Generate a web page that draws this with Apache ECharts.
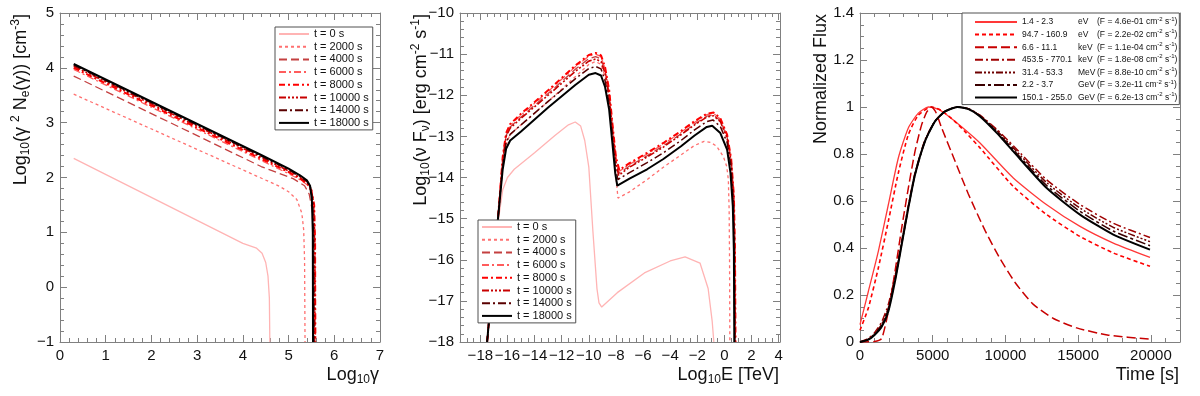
<!DOCTYPE html>
<html>
<head>
<meta charset="utf-8">
<script src="https://cdn.jsdelivr.net/npm/echarts@6.0.0/dist/echarts.min.js"></script>
<style>
html, body { margin: 0; padding: 0; background: #fff; }
#main { width: 1200px; height: 396px; }
</style>
</head>
<body>
<div id="main"></div>
<script>
// legend labels
var timeLabels = ['t = 0 s', 't = 2000 s', 't = 4000 s', 't = 6000 s', 't = 8000 s', 't = 10000 s', 't = 14000 s', 't = 18000 s'];
var bandRanges = ['1.4 - 2.3', '94.7 - 160.9', '6.6 - 11.1', '453.5 - 770.1', '31.4 - 53.3', '2.2 - 3.7', '150.1 - 255.0'];
var bandUnits = ['eV', 'eV', 'keV', 'keV', 'MeV', 'GeV', 'GeV'];
var bandFlux = ['4.6e-01', '2.2e-02', '1.1e-04', '1.8e-08', '8.8e-10', '3.2e-11', '6.2e-13'];

// panel 1 : log10 gamma vs log10(gamma^2 Ne)
var ne0 = [[0.3, 2.35], [4.0, 0.8], [4.3, 0.71], [4.42, 0.62], [4.5, 0.45], [4.55, 0.2], [4.58, -0.2], [4.59, -1]];
var ne2000 = [[0.3, 3.52], [4.8, 1.84], [5.0, 1.74], [5.18, 1.6], [5.29, 1.35], [5.33, 1.05], [5.35, 0.5], [5.36, -1]];
var ne4000 = [[0.3, 3.85], [4.4, 2.2], [5.1, 1.98], [5.35, 1.85], [5.45, 1.7], [5.52, 1.4], [5.55, 0.6], [5.56, -1]];
var ne6000 = [[0.3, 3.97], [4.4, 2.31], [5.0, 2.07], [5.25, 1.96], [5.42, 1.86], [5.5, 1.74], [5.56, 1.45], [5.58, 0.8], [5.59, -1]];
var ne8000 = [[0.3, 4.0], [4.4, 2.34], [5.0, 2.1], [5.25, 1.98], [5.42, 1.88], [5.5, 1.76], [5.56, 1.5], [5.58, 0.8], [5.585, -1]];
var ne10000 = [[0.3, 4.03], [4.4, 2.37], [5.0, 2.12], [5.25, 2.0], [5.42, 1.9], [5.5, 1.78], [5.55, 1.5], [5.57, 0.8], [5.575, -1]];
var ne14000 = [[0.3, 4.05], [4.4, 2.39], [5.0, 2.14], [5.25, 2.02], [5.4, 1.93], [5.48, 1.82], [5.53, 1.55], [5.55, 0.9], [5.555, -1]];
var ne18000 = [[0.3, 4.07], [4.4, 2.41], [5.0, 2.16], [5.25, 2.04], [5.4, 1.95], [5.47, 1.85], [5.51, 1.6], [5.53, 1.0], [5.535, -1]];

// panel 2 : log10 E vs log10(nu F_nu)
var sed0 = [[-17.5, -18], [-17.1, -16.5], [-16.7, -15.1], [-16.35, -14.3], [-16.0, -14.0], [-15.5, -13.8], [-14, -13.4], [-12.5, -12.98], [-11.5, -12.72], [-11.0, -12.65], [-10.6, -12.75], [-10.3, -13.1], [-10.0, -13.75], [-9.7, -15.3], [-9.4, -16.7], [-9.25, -17.05], [-9.05, -17.15], [-7.9, -16.8], [-5.9, -16.32], [-4, -16.03], [-2.9, -15.93], [-1.8, -16.08], [-1.2, -16.7], [-0.9, -17.5], [-0.78, -18]];
var sed2000 = [[-17.5, -18], [-17.1, -16.5], [-16.7, -15], [-16.35, -13.75], [-16.1, -13.2], [-15.8, -12.95], [-15, -12.72], [-13, -12.15], [-11, -11.55], [-10, -11.25], [-9.5, -11.18], [-9.1, -11.25], [-8.8, -11.55], [-8.5, -12.1], [-8.25, -12.95], [-8.05, -13.8], [-7.85, -14.5], [-7, -14.35], [-5.7, -14.05], [-4.5, -13.75], [-3.2, -13.45], [-2.2, -13.22], [-1.5, -13.12], [-1, -13.15], [-0.57, -13.24], [-0.08, -13.49], [0.17, -13.73], [0.29, -14.05], [0.35, -14.8], [0.38, -16], [0.4, -18]];
var sed4000 = [[-17.5, -18], [-17.1, -16.5], [-16.7, -15], [-16.35, -13.56], [-16.1, -12.98], [-15.8, -12.77], [-15, -12.53], [-13, -11.96], [-11, -11.37], [-10, -11.11], [-9.5, -11.06], [-9.1, -11.12], [-8.8, -11.41], [-8.5, -11.96], [-8.25, -12.81], [-8.0, -13.6], [-7.78, -13.9], [-7, -13.72], [-5.7, -13.47], [-4.5, -13.23], [-3.2, -12.94], [-2.2, -12.7], [-1.3, -12.51], [-0.8, -12.48], [-0.3, -12.62], [0.2, -13.02], [0.5, -13.6], [0.69, -14.5], [0.77, -15.8], [0.8, -18]];
var sed6000 = [[-17.5, -18], [-17.1, -16.5], [-16.7, -15], [-16.35, -13.52], [-16.1, -12.95], [-15.8, -12.73], [-15, -12.48], [-13, -11.91], [-11, -11.31], [-10, -11.05], [-9.5, -11.0], [-9.1, -11.06], [-8.8, -11.35], [-8.5, -11.9], [-8.25, -12.75], [-8.0, -13.52], [-7.75, -13.85], [-7, -13.68], [-5.7, -13.43], [-4.5, -13.19], [-3.2, -12.9], [-2.2, -12.66], [-1.3, -12.47], [-0.8, -12.44], [-0.3, -12.58], [0.2, -12.98], [0.5, -13.57], [0.7, -14.47], [0.78, -15.8], [0.81, -18]];
var sed8000 = [[-17.5, -18], [-17.1, -16.5], [-16.7, -15], [-16.35, -13.5], [-16.1, -12.92], [-15.8, -12.7], [-15, -12.45], [-13, -11.88], [-11, -11.28], [-10, -11.02], [-9.5, -10.97], [-9.1, -11.03], [-8.8, -11.32], [-8.5, -11.87], [-8.25, -12.72], [-8.0, -13.5], [-7.75, -13.82], [-7, -13.65], [-5.7, -13.4], [-4.5, -13.16], [-3.2, -12.87], [-2.2, -12.63], [-1.3, -12.45], [-0.8, -12.42], [-0.3, -12.56], [0.2, -12.96], [0.5, -13.55], [0.7, -14.45], [0.78, -15.8], [0.82, -18]];
var sed10000 = [[-17.5, -18], [-17.1, -16.5], [-16.7, -15], [-16.35, -13.6], [-16.1, -13.0], [-15.8, -12.8], [-15, -12.56], [-13, -12.0], [-11, -11.42], [-10, -11.17], [-9.5, -11.12], [-9.1, -11.18], [-8.8, -11.47], [-8.5, -12.02], [-8.25, -12.87], [-8.0, -13.65], [-7.8, -13.95], [-7, -13.75], [-5.7, -13.5], [-4.5, -13.26], [-3.2, -12.96], [-2.2, -12.72], [-1.3, -12.53], [-0.8, -12.5], [-0.3, -12.64], [0.2, -13.04], [0.5, -13.62], [0.68, -14.5], [0.76, -15.8], [0.79, -18]];
var sed14000 = [[-17.5, -18], [-17.1, -16.5], [-16.7, -15], [-16.35, -13.7], [-16.1, -13.15], [-15.8, -12.95], [-15, -12.72], [-13, -12.15], [-11, -11.6], [-10, -11.35], [-9.5, -11.3], [-9.1, -11.36], [-8.8, -11.65], [-8.5, -12.2], [-8.25, -13.05], [-8.02, -13.8], [-7.85, -14.05], [-7, -13.88], [-5.7, -13.64], [-4.5, -13.4], [-3.2, -13.1], [-2.2, -12.84], [-1.3, -12.64], [-0.85, -12.6], [-0.3, -12.76], [0.2, -13.15], [0.5, -13.75], [0.66, -14.6], [0.73, -15.8], [0.76, -18]];
var sed18000 = [[-17.5, -18], [-17.1, -16.5], [-16.7, -15], [-16.35, -13.8], [-16.1, -13.3], [-15.8, -13.1], [-15, -12.88], [-13, -12.3], [-11, -11.75], [-10, -11.5], [-9.5, -11.46], [-9.1, -11.52], [-8.8, -11.8], [-8.5, -12.35], [-8.25, -13.2], [-8.05, -13.9], [-7.9, -14.2], [-7, -14.03], [-5.7, -13.8], [-4.5, -13.55], [-3.2, -13.24], [-2.2, -12.98], [-1.3, -12.77], [-0.9, -12.74], [-0.3, -12.92], [0.2, -13.32], [0.45, -13.89], [0.62, -14.7], [0.7, -15.8], [0.73, -18]];

// panel 3 : normalized light curves, time [s]
var lcEv1 = [[0, 0.074], [573, 0.215], [1260, 0.386], [1947, 0.584], [2635, 0.783], [3322, 0.911], [4010, 0.974], [4700, 1.0], [5400, 0.99], [6000, 0.965], [7000, 0.915], [8250, 0.847], [10540, 0.698], [12835, 0.584], [15125, 0.492], [17416, 0.421], [19937, 0.36]];
var lcEv2 = [[0, 0.05], [573, 0.145], [1260, 0.315], [1947, 0.513], [2635, 0.719], [3322, 0.882], [4010, 0.965], [4900, 1.0], [5600, 0.985], [6500, 0.94], [7300, 0.89], [8250, 0.826], [10540, 0.662], [12835, 0.542], [15125, 0.449], [17416, 0.379], [19937, 0.322]];
var lcKev1 = [[0, 0], [1000, 0.002], [1490, 0.015], [1947, 0.13], [2406, 0.3], [2865, 0.485], [3322, 0.655], [3781, 0.811], [4240, 0.925], [4600, 0.98], [4927, 1.0], [5200, 0.98], [5615, 0.911], [6531, 0.77], [7448, 0.63], [8594, 0.475], [9625, 0.355], [10700, 0.25], [11917, 0.16], [13300, 0.1], [14900, 0.06], [17000, 0.03], [19937, 0.012]];
var lcKev2 = [[0, 0], [573, 0.015], [1000, 0.04], [1490, 0.085], [1947, 0.16], [2406, 0.28], [2865, 0.43], [3322, 0.58], [3781, 0.72], [4469, 0.86], [5156, 0.94], [5844, 0.982], [6700, 1.0], [7500, 0.992], [8250, 0.965], [9400, 0.905], [10540, 0.835], [12835, 0.69], [15125, 0.585], [17416, 0.505], [19937, 0.445]];
var lcMev = [[0, 0], [573, 0.012], [1000, 0.035], [1490, 0.075], [1947, 0.145], [2406, 0.27], [2865, 0.42], [3322, 0.575], [3781, 0.715], [4469, 0.857], [5156, 0.94], [5844, 0.981], [6700, 1.0], [7500, 0.991], [8250, 0.963], [9400, 0.9], [10540, 0.826], [12835, 0.678], [15125, 0.57], [17416, 0.488], [19937, 0.427]];
var lcGev1 = [[0, 0], [573, 0.011], [1000, 0.032], [1490, 0.07], [1947, 0.138], [2406, 0.264], [2865, 0.417], [3322, 0.572], [3781, 0.713], [4469, 0.855], [5156, 0.939], [5844, 0.981], [6700, 1.0], [7500, 0.99], [8250, 0.962], [9400, 0.895], [10540, 0.818], [12835, 0.666], [15125, 0.556], [17416, 0.472], [19937, 0.41]];
var lcGev2 = [[0, 0], [573, 0.01], [1000, 0.03], [1490, 0.065], [1947, 0.13], [2406, 0.258], [2865, 0.414], [3322, 0.57], [3781, 0.712], [4469, 0.854], [5156, 0.939], [5844, 0.981], [6700, 1.0], [7500, 0.99], [8250, 0.96], [9400, 0.89], [10540, 0.811], [12835, 0.655], [15125, 0.542], [17416, 0.457], [19937, 0.393]];

var neData = [ne0, ne2000, ne4000, ne6000, ne8000, ne10000, ne14000, ne18000];
var sedData = [sed0, sed2000, sed4000, sed6000, sed8000, sed10000, sed14000, sed18000];
var lcData = [lcEv1, lcEv2, lcKev1, lcKev2, lcMev, lcGev1, lcGev2];

var font = "'Liberation Sans', Arial, Helvetica, sans-serif";
var frameColor = '#808080';

var timeStyles = [
  { color: '#ffb4b4', type: 'solid', width: 1.3 },
  { color: '#ff7070', type: [3, 3], width: 1.3 },
  { color: '#c44040', type: [8, 4], width: 1.3 },
  { color: '#ff5c5c', type: [7, 3, 2, 3], width: 1.3 },
  { color: '#ff0000', type: [6, 3, 2, 3], width: 2 },
  { color: '#c80000', type: [7, 2, 2, 2, 2, 2, 2, 2], width: 1.6 },
  { color: '#5a0000', type: [8, 3, 2, 3], width: 1.5 },
  { color: '#000000', type: 'solid', width: 2 }
];
var bandStyles = [
  { color: '#ff3838', type: 'solid', width: 1.3 },
  { color: '#ff0000', type: [4, 3], width: 1.6 },
  { color: '#c80000', type: [9, 4], width: 1.5 },
  { color: '#a00000', type: [8, 3, 2, 3], width: 1.5 },
  { color: '#6e0000', type: [7, 2, 2, 2, 2, 2, 2, 2], width: 1.5 },
  { color: '#3a0000', type: [10, 3, 3, 3], width: 1.6 },
  { color: '#000000', type: 'solid', width: 2 }
];

function minus(v) {
  return String(v).replace('-', '\u2212');
}

var nameRich = {
  s: { fontSize: 12, lineHeight: 8, verticalAlign: 'bottom', fontFamily: font, color: '#111' },
  p: { fontSize: 12, lineHeight: 8, verticalAlign: 'top', fontFamily: font, color: '#111' }
};

function axis(gridIndex, position, extra, showLabel, minorSplit) {
  var a = {
    type: 'value',
    gridIndex: gridIndex,
    position: position,
    axisLine: { show: true, onZero: false, lineStyle: { color: frameColor, width: 1 } },
    axisTick: { show: true, inside: true, length: 7, lineStyle: { color: frameColor } },
    minorTick: { show: true, splitNumber: minorSplit, length: 4, lineStyle: { color: frameColor } },
    splitLine: { show: false },
    axisLabel: {
      show: showLabel, margin: 6, color: '#111', fontSize: 15, fontFamily: font,
      formatter: minus
    }
  };
  for (var k in extra) a[k] = extra[k];
  return a;
}

function xName(text) {
  return {
    name: text,
    nameLocation: 'end',
    nameGap: 0,
    nameMoveOverlap: false,
    nameTextStyle: {
      fontSize: 18, lineHeight: 22, fontFamily: font, color: '#111',
      align: 'right', verticalAlign: 'top', padding: [22, 1, 0, 0], rich: nameRich
    }
  };
}
function yName(text) {
  return {
    name: text,
    nameLocation: 'end',
    nameGap: -1,
    nameRotate: 90,
    nameMoveOverlap: false,
    nameTextStyle: {
      fontSize: 18, lineHeight: 22, fontFamily: font, color: '#111',
      align: 'right', verticalAlign: 'bottom', padding: [0, 0, 28, 0], rich: nameRich
    }
  };
}
function merge(a, b) {
  for (var k in b) a[k] = b[k];
  return a;
}

var xRanges = [
  { min: 0, max: 7, interval: 1 },
  { min: -19.5, max: 4.1, splitNumber: 12 },
  { min: 0, max: 22000, interval: 5000 }
];
var yRanges = [
  { min: -1, max: 5, interval: 1 },
  { min: -18, max: -10, interval: 1 },
  { min: 0, max: 1.4, interval: 0.2 }
];
var xMinor = [5, 4, 5];
var yMinor = [5, 5, 4];
var xNames = ['Log{s|10}\u03b3', 'Log{s|10}E [TeV]', 'Time [s]'];
var yNames = [
  'Log{s|10}(\u03b3 {p|2} N{s|e}(\u03b3)) [cm{p|-3}]',
  'Log{s|10}(\u03bd F{s|\u03bd}) [erg cm{p|-2} s{p|-1}]',
  'Normalized Flux'
];

var xAxes = [], yAxes = [];
for (var g = 0; g < 3; g++) {
  var xa = axis(g, 'bottom', xRanges[g], true, xMinor[g]);
  xa.axisLabel.showMinLabel = g !== 1;
  xa.axisLabel.showMaxLabel = g === 0;
  xAxes.push(merge(xa, xName(xNames[g])));
  var ya = axis(g, 'left', yRanges[g], true, yMinor[g]);
  yAxes.push(merge(ya, yName(yNames[g])));
}
for (var g2 = 0; g2 < 3; g2++) {
  xAxes.push(axis(g2, 'top', xRanges[g2], false, xMinor[g2]));
  yAxes.push(axis(g2, 'right', yRanges[g2], false, yMinor[g2]));
}

function line(name, data, gi, st) {
  return {
    name: name,
    type: 'line',
    xAxisIndex: gi,
    yAxisIndex: gi,
    data: data,
    symbol: 'circle',
    showSymbol: false,
    clip: true,
    smooth: gi === 2 ? 0.2 : false,
    lineStyle: { color: st.color, width: st.width, type: st.type },
    itemStyle: { color: st.color },
    emphasis: { disabled: true }
  };
}

var series = [];
for (var i = 0; i < timeLabels.length; i++) series.push(line(timeLabels[i], neData[i], 0, timeStyles[i]));
for (var j = 0; j < timeLabels.length; j++) series.push(line(timeLabels[j], sedData[j], 1, timeStyles[j]));
var bandNames = [];
for (var b = 0; b < bandRanges.length; b++) {
  bandNames.push(bandRanges[b] + ' ' + bandUnits[b]);
  series.push(line(bandNames[b], lcData[b], 2, bandStyles[b]));
}

function timeLegend(left, top) {
  return {
    data: timeLabels,
    orient: 'vertical',
    left: left, top: top,
    selectedMode: false,
    backgroundColor: '#fff',
    borderColor: '#505050', borderWidth: 1,
    padding: [1, 4, 1, 3],
    itemWidth: 30, itemHeight: 12, itemGap: 0.7,
    itemStyle: { opacity: 0 },
    textStyle: { fontSize: 11, lineHeight: 12, fontFamily: font, color: '#111' }
  };
}

var option = {
  animation: false,
  backgroundColor: '#fff',
  grid: [
    { left: 60, top: 13, width: 320, height: 329, outerBoundsMode: 'none' },
    { left: 460, top: 13, width: 320, height: 329, outerBoundsMode: 'none' },
    { left: 860, top: 13, width: 320, height: 329, outerBoundsMode: 'none' }
  ],
  xAxis: xAxes,
  yAxis: yAxes,
  legend: [
    timeLegend(275, 27),
    timeLegend(478, 220),
    {
      data: bandNames,
      orient: 'vertical',
      left: 962, top: 13,
      selectedMode: false,
      backgroundColor: '#fff',
      borderColor: '#505050', borderWidth: 1,
      padding: [3, 2, 1, 12],
      itemWidth: 42, itemHeight: 12, itemGap: 0.6,
      itemStyle: { opacity: 0 },
      formatter: function (name) {
        var k = bandNames.indexOf(name);
        return '{r|' + bandRanges[k] + '}{u|' + bandUnits[k] + '}{f|(F = ' + bandFlux[k] +
          ' cm}{p|-2}{f| s}{p|-1}{f|)}';
      },
      textStyle: {
        fontSize: 8.5, lineHeight: 12, fontFamily: font, color: '#111',
        rich: {
          r: { width: 56, fontSize: 8.5, fontFamily: font, color: '#111' },
          u: { width: 19, fontSize: 8.5, fontFamily: font, color: '#111' },
          f: { fontSize: 8.5, fontFamily: font, color: '#111' },
          p: { fontSize: 6, lineHeight: 6, verticalAlign: 'top', fontFamily: font, color: '#111' }
        }
      }
    }
  ],
  series: series
};

var chart = echarts.init(document.getElementById('main'), null, { renderer: 'canvas' });
chart.setOption(option);
</script>
</body>
</html>
